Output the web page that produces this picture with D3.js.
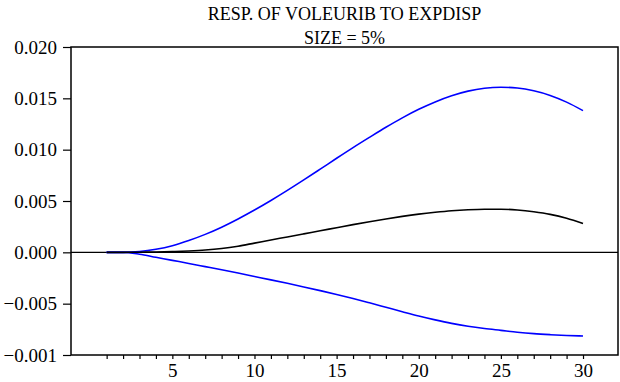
<!DOCTYPE html>
<html><head><meta charset="utf-8">
<script src="https://cdn.jsdelivr.net/npm/d3@7"></script>
<style>body{margin:0;background:#fff}svg{display:block}</style>
</head><body><svg id="c" width="620" height="382"></svg>
<script>
const titleLines = ["RESP. OF VOLEURIB TO EXPDISP", "SIZE = 5%"];
const periods = d3.range(1, 31);
const upper = [0,0,0.00008,0.0003,0.00065,0.00115,0.00175,0.00245,0.00325,0.00412,0.00505,0.00603,0.00705,0.0081,0.00916,0.0102,0.0112,0.01218,0.0131,0.01393,0.01465,0.01525,0.0157,0.01598,0.01608,0.016,0.01573,0.01528,0.01463,0.0138];
const response = [0,0,0.00001,0.00003,0.00007,0.00013,0.00022,0.00037,0.0006,0.0009,0.0012,0.0015,0.0018,0.0021,0.0024,0.0027,0.00298,0.00325,0.0035,0.00372,0.0039,0.00405,0.00415,0.0042,0.0042,0.00412,0.00395,0.0037,0.00332,0.0028];
const lower = [0,0,-0.00018,-0.00048,-0.00078,-0.00108,-0.00139,-0.0017,-0.00202,-0.00235,-0.00268,-0.00302,-0.00337,-0.00373,-0.0041,-0.0045,-0.00492,-0.00535,-0.00578,-0.0062,-0.00658,-0.00692,-0.0072,-0.00742,-0.0076,-0.00778,-0.00792,-0.00802,-0.0081,-0.00815];
const yTickValues = [0.020, 0.015, 0.010, 0.005, 0.000, -0.005, -0.010];
const yTickLabels = ["0.020", "0.015", "0.010", "0.005", "0.000", "\u22120.005", "\u22120.001"];
const xTickLabels = [5, 10, 15, 20, 25, 30];

const svg = d3.select("#c");
const L = 71, R = 618, T = 47, B = 355;
const x = d3.scaleLinear().domain([-1.17, 32.13]).range([L, R]);
const y = d3.scaleLinear().domain([-0.010, 0.020]).range([B, T]);
const FONT = '"Liberation Serif"';

// title
svg.selectAll("text.title").data(titleLines).join("text")
  .attr("class", "title")
  .attr("x", (L + R) / 2).attr("y", (d, i) => 20 + i * 24)
  .attr("text-anchor", "middle")
  .style("font-family", FONT).style("font-size", "18px")
  .attr("fill", "#000").text(d => d);

// y axis
const yAxis = d3.axisLeft(y).tickValues(yTickValues)
  .tickFormat((d, i) => yTickLabels[i]).tickSize(8).tickPadding(6);
const gy = svg.append("g").attr("transform", `translate(${L},0)`).call(yAxis);
gy.select(".domain").remove();
gy.selectAll("line").attr("stroke", "#000").attr("stroke-width", 1.2);
gy.selectAll("text").style("font-family", FONT).style("font-size", "19px").attr("fill", "#000");

// x axis
const xAxis = d3.axisBottom(x).tickValues(periods)
  .tickFormat(d => xTickLabels.includes(d) ? d : "").tickSize(4).tickPadding(5);
const gx = svg.append("g").attr("transform", `translate(0,${B})`).call(xAxis);
gx.select(".domain").remove();
gx.selectAll("line").attr("stroke", "#000").attr("stroke-width", 1.2);
gx.selectAll("text").style("font-family", FONT).style("font-size", "19px").attr("fill", "#000");

// frame
svg.append("rect").attr("x", L).attr("y", T).attr("width", R - L).attr("height", B - T)
  .attr("fill", "none").attr("stroke", "#000").attr("stroke-width", 1.5);

// zero line
svg.append("line").attr("x1", L).attr("x2", R).attr("y1", y(0)).attr("y2", y(0))
  .attr("stroke", "#000").attr("stroke-width", 1.3);

const line = d3.line().x((d, i) => x(periods[i])).y(d => y(d)).curve(d3.curveMonotoneX);
[[upper, "#0000ff"], [lower, "#0000ff"], [response, "#000"]].forEach(([s, c]) => {
  svg.append("path").attr("d", line(s)).attr("fill", "none")
    .attr("stroke", c).attr("stroke-width", 1.6);
});
</script></body></html>
